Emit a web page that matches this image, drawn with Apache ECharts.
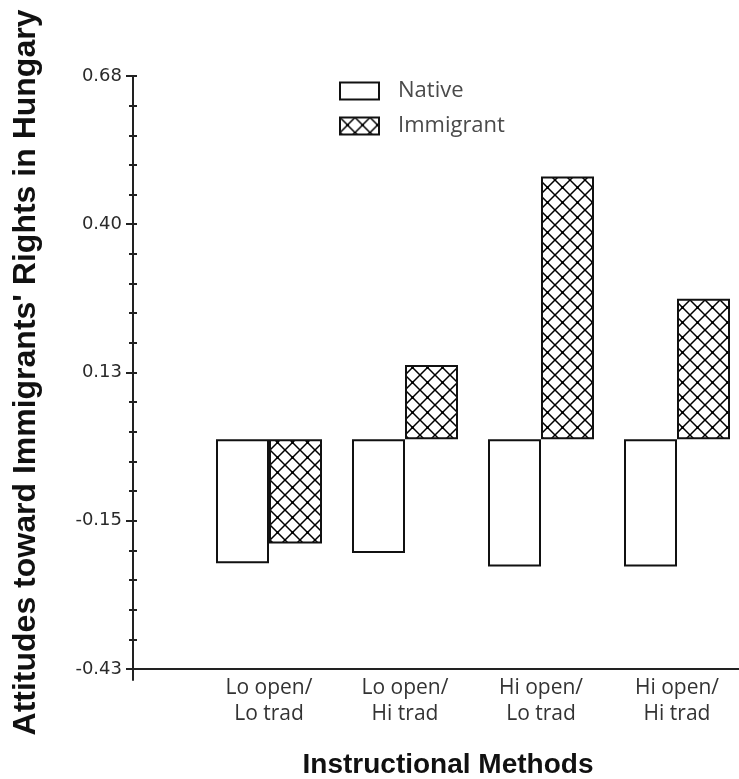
<!DOCTYPE html>
<html>
<head>
<meta charset="utf-8">
<script src="https://cdn.jsdelivr.net/npm/echarts@6/dist/echarts.min.js"></script>
<style>
html,body{margin:0;padding:0;background:#fff;overflow:hidden;}
#chart{width:760px;height:779px;}
</style>
</head>
<body>
<div id="chart"></div>
<script>
// ---- data ----
const categories = ['Lo open/\nLo trad', 'Lo open/\nHi trad', 'Hi open/\nLo trad', 'Hi open/\nHi trad'];
const nativeValues = [-0.232, -0.213, -0.238, -0.238];
const immigrantValues = [-0.195, 0.139, 0.492, 0.263];
const seriesNames = ['Native', 'Immigrant'];
const tickValues = [-0.43, -0.1525, 0.125, 0.4025, 0.68];
const tickLabels = ['-0.43', '-0.15', '0.13', '0.40', '0.68'];
const yMin = -0.43, yMax = 0.68, yMinStub = -0.4506;

// minor ticks: 5 subdivisions between major ticks
const minorTicks = [];
for (let i = 0; i < tickValues.length - 1; i++) {
  const step = (tickValues[i + 1] - tickValues[i]) / 5;
  for (let k = 1; k < 5; k++) minorTicks.push(tickValues[i] + k * step);
}
const allTicks = tickValues.concat(minorTicks);

function makeHatch() {
  const s = 15;
  const c = document.createElement('canvas');
  c.width = s; c.height = s;
  const ctx = c.getContext('2d');
  ctx.fillStyle = '#fff';
  ctx.fillRect(0, 0, s, s);
  ctx.strokeStyle = '#000';
  ctx.lineWidth = 1.5;
  ctx.beginPath();
  ctx.moveTo(0, 0); ctx.lineTo(s, s);
  ctx.moveTo(s, 0); ctx.lineTo(0, s);
  ctx.stroke();
  ctx.fillStyle = '#000';
  ctx.fillRect(s / 2 - 1.3, s / 2 - 1.3, 2.6, 2.6);
  return c;
}
const hatch = makeHatch();

const chart = echarts.init(document.getElementById('chart'), null, {renderer: 'canvas'});
const axisColor = '#222';
chart.setOption({
  backgroundColor: '#fff',
  animation: false,
  legend: {
    orient: 'vertical',
    left: 339, top: 80, padding: 0,
    icon: 'rect',
    itemWidth: 39, itemHeight: 17, itemGap: 13,
    data: seriesNames,
    textStyle: {fontFamily: 'Open Sans', fontSize: 22, color: '#4a4a4a', padding: [0, 0, 0, 14]}
  },
  grid: [
    {left: 133, top: 76, width: 612, height: 593, containLabel: false, outerBoundsMode: 'none'},
    {left: 133, top: 76, width: 10, height: 604, containLabel: false, outerBoundsMode: 'none'},
    {left: 201, top: 76, width: 544, height: 593, containLabel: false, outerBoundsMode: 'none'}
  ],
  xAxis: [
    {
      type: 'value', gridIndex: 0, min: 0, max: 1,
      axisLine: {show: true, onZero: false, lineStyle: {color: axisColor, width: 2}},
      axisTick: {show: false}, splitLine: {show: false}, axisLabel: {show: false},
      name: 'Instructional Methods', nameLocation: 'middle', nameGap: 96,
      nameTextStyle: {fontFamily: 'Liberation Sans', fontWeight: 'bold', fontSize: 28, color: '#111',
        verticalAlign: 'middle', padding: [0, 0, 0, 18]}
    },
    {type: 'value', gridIndex: 1, min: 0, max: 1, show: false},
    {
      type: 'category', gridIndex: 2, data: categories,
      axisLine: {show: false}, axisTick: {show: false}, splitLine: {show: false},
      axisLabel: {fontFamily: 'Open Sans', fontSize: 21, lineHeight: 26, color: '#333', margin: 6, interval: 0}
    }
  ],
  yAxis: [
    {
      type: 'value', gridIndex: 0, min: yMin, max: yMax,
      axisLine: {show: false}, axisTick: {show: false}, axisLabel: {show: false}, splitLine: {show: false},
      name: "Attitudes toward Immigrants' Rights in Hungary", nameLocation: 'middle', nameGap: 107, nameRotate: 90,
      nameTextStyle: {fontFamily: 'Liberation Sans', fontWeight: 'bold', fontSize: 32, color: '#111', verticalAlign: 'middle'}
    },
    {
      type: 'value', gridIndex: 1, min: yMinStub, max: yMax,
      axisLine: {show: true, lineStyle: {color: axisColor, width: 2}},
      axisTick: {show: true, inside: false, length: 7, customValues: tickValues, lineStyle: {color: axisColor, width: 2}},
      axisLabel: {
        customValues: tickValues,
        formatter: v => { const i = tickValues.findIndex(t => Math.abs(t - v) < 1e-6); return i >= 0 ? tickLabels[i] : ''; },
        fontFamily: 'DejaVu Sans', fontSize: 18, color: '#2a2a2a', margin: 11
      },
      splitLine: {show: false}
    },
    {
      type: 'value', gridIndex: 1, min: yMinStub, max: yMax, position: 'left', offset: 0,
      axisLine: {show: false},
      axisTick: {show: true, inside: true, length: 4, customValues: allTicks, lineStyle: {color: axisColor, width: 2}},
      axisLabel: {show: false}, splitLine: {show: false}
    },
    {
      type: 'value', gridIndex: 1, min: yMinStub, max: yMax, position: 'left', offset: 0,
      axisLine: {show: false},
      axisTick: {show: true, inside: false, length: 4, customValues: minorTicks, lineStyle: {color: axisColor, width: 2}},
      axisLabel: {show: false}, splitLine: {show: false}
    },
    {
      type: 'value', gridIndex: 2, min: yMin, max: yMax, show: false
    }
  ],
  series: [
    {
      name: seriesNames[0], type: 'bar', xAxisIndex: 2, yAxisIndex: 4,
      barWidth: 53, barGap: '0%',
      itemStyle: {color: '#fff', borderColor: '#111', borderWidth: 2},
      data: nativeValues
    },
    {
      name: seriesNames[1], type: 'bar', xAxisIndex: 2, yAxisIndex: 4,
      barWidth: 53, barGap: '0%',
      itemStyle: {color: {image: hatch, repeat: 'repeat'}, borderColor: '#111', borderWidth: 2},
      data: immigrantValues
    }
  ]
});
</script>
</body>
</html>
